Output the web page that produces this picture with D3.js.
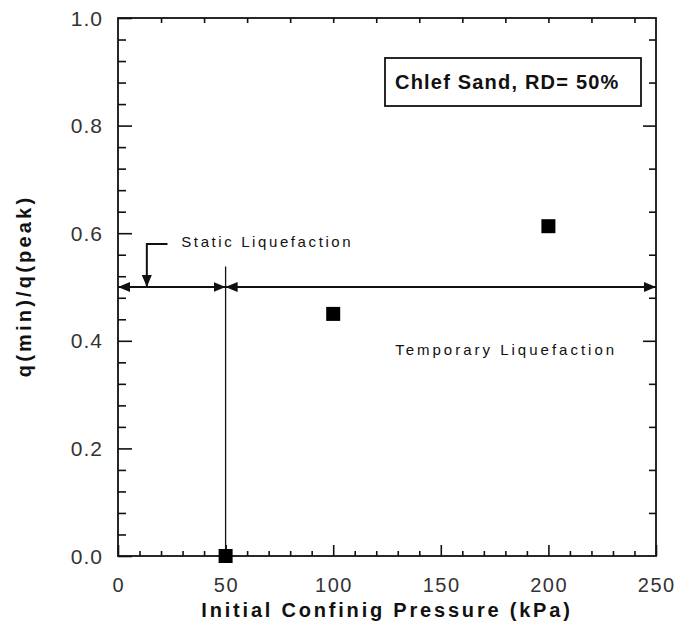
<!DOCTYPE html>
<html>
<head>
<meta charset="utf-8">
<style>
  body { margin: 0; background: #fff; }
  text { font-family: "Liberation Sans", Arial, sans-serif; }
</style>
<script src="https://d3js.org/d3.v7.min.js"></script>
</head>
<body>
<svg id="chart" width="676" height="627"></svg>
<script>
// data
const pressure = [50, 100, 200];
const qRatio = [0.0, 0.45, 0.613];
const xTickLabels = [0, 50, 100, 150, 200, 250];
const yTickLabels = [0.0, 0.2, 0.4, 0.6, 0.8, 1.0];
const boundaryPressure = 50;
const liquefactionLevel = 0.5;
const boundaryTop = 0.538;
const staticLeader = [[23, 0.58], [13.4, 0.58], [13.4, 0.5]];

const margin = { left: 118, top: 18, right: 20, bottom: 71 };
const width = 656 - margin.left;
const height = 556 - margin.top;

const svg = d3.select('#chart');
const g = svg.append('g').attr('transform', `translate(${margin.left},${margin.top})`);

const x = d3.scaleLinear().domain([0, 250]).range([0, width]);
const y = d3.scaleLinear().domain([0, 1]).range([height, 0]);

// inward tick marks, no labels
function tickAxis(axisFn, scale, values, size) {
  return axisFn(scale).tickValues(values).tickSize(size).tickFormat('');
}
const xMinor = d3.range(0, 251, 10).filter(d => d % 50 !== 0);
const xMajor = d3.range(0, 251, 50);
const yMinor = d3.range(0, 1.001, 0.04).filter(d => Math.abs(d / 0.2 - Math.round(d / 0.2)) > 1e-6);
const yMajor = d3.range(0, 1.001, 0.2);

const axes = g.append('g').attr('class', 'axes');
axes.append('g').attr('transform', `translate(0,${height})`).call(tickAxis(d3.axisTop, x, xMinor, 5));
axes.append('g').attr('transform', `translate(0,${height})`).call(tickAxis(d3.axisTop, x, xMajor, 11));
axes.append('g').call(tickAxis(d3.axisBottom, x, d3.range(20, 250, 20), 5));
axes.append('g').call(tickAxis(d3.axisRight, y, yMinor, 8));
axes.append('g').call(tickAxis(d3.axisRight, y, yMajor, 14));
const rightMinor = d3.range(0.08, 1, 0.08).filter(d => Math.abs(d / 0.4 - Math.round(d / 0.4)) > 1e-6);
axes.append('g').attr('transform', `translate(${width},0)`).call(tickAxis(d3.axisLeft, y, rightMinor, 7));
axes.append('g').attr('transform', `translate(${width},0)`).call(tickAxis(d3.axisLeft, y, [0.4, 0.8], 13));
axes.selectAll('.domain').remove();
axes.selectAll('line').attr('stroke', '#111').attr('stroke-width', 1.6);

g.append('rect')
  .attr('width', width).attr('height', height)
  .attr('fill', 'none').attr('stroke', '#111').attr('stroke-width', 1.8);

// tick labels
g.append('g').selectAll('text').data(xTickLabels).join('text')
  .attr('x', d => x(d) + 0.8).attr('y', height + 36)
  .attr('text-anchor', 'middle').attr('font-size', 20).attr('fill', '#333')
  .attr('letter-spacing', 1.5)
  .text(d => d);
g.append('g').selectAll('text').data(yTickLabels).join('text')
  .attr('x', -15).attr('y', d => y(d) + 7.5)
  .attr('text-anchor', 'end').attr('font-size', 21).attr('fill', '#333')
  .attr('letter-spacing', 1)
  .text(d => d.toFixed(1));

// axis titles
svg.append('text')
  .attr('x', 387).attr('y', 617).attr('text-anchor', 'middle')
  .attr('font-size', 20).attr('font-weight', 'bold').attr('fill', '#111')
  .attr('letter-spacing', 2.8)
  .text('Initial Confinig Pressure (kPa)');
svg.append('text')
  .attr('transform', 'translate(31,286) rotate(-90)')
  .attr('text-anchor', 'middle')
  .attr('font-size', 20).attr('font-weight', 'bold').attr('fill', '#111')
  .attr('letter-spacing', 3.2)
  .text('q(min)/q(peak)');

// arrowheads
const defs = svg.append('defs');
defs.append('marker')
  .attr('id', 'arrow').attr('viewBox', '0 0 12 10')
  .attr('refX', 12).attr('refY', 5)
  .attr('markerWidth', 12).attr('markerHeight', 10)
  .attr('markerUnits', 'userSpaceOnUse')
  .attr('orient', 'auto-start-reverse')
  .append('path').attr('d', 'M0,0 L12,5 L0,10 Z').attr('fill', '#111');

const ann = g.append('g').attr('class', 'annotations');
const line = d3.line().x(d => x(d[0])).y(d => y(d[1]));

// boundary at 50 kPa
ann.append('path')
  .attr('d', line([[boundaryPressure, 0], [boundaryPressure, boundaryTop]]))
  .attr('stroke', '#111').attr('stroke-width', 1.3).attr('fill', 'none');

// double arrows
[[0, boundaryPressure], [boundaryPressure, 250]].forEach(([a, b]) => {
  ann.append('path')
    .attr('d', line([[a, liquefactionLevel], [b, liquefactionLevel]]))
    .attr('stroke', '#111').attr('stroke-width', 2.2).attr('fill', 'none')
    .attr('marker-start', 'url(#arrow)').attr('marker-end', 'url(#arrow)');
});

// static leader
ann.append('path')
  .attr('d', line(staticLeader))
  .attr('stroke', '#111').attr('stroke-width', 2).attr('fill', 'none')
  .attr('marker-end', 'url(#arrow)');

ann.append('text')
  .attr('x', x(29.4)).attr('y', y(0.574))
  .attr('font-size', 15).attr('letter-spacing', 2.6).attr('fill', '#111')
  .text('Static Liquefaction');
ann.append('text')
  .attr('x', x(128.8)).attr('y', y(0.374))
  .attr('font-size', 15).attr('letter-spacing', 3.0).attr('fill', '#111')
  .text('Temporary Liquefaction');

// legend box
svg.append('rect')
  .attr('x', 385).attr('y', 58).attr('width', 256).attr('height', 48)
  .attr('fill', '#fff').attr('stroke', '#111').attr('stroke-width', 1.8);
svg.append('text')
  .attr('x', 395).attr('y', 89)
  .attr('font-size', 20).attr('font-weight', 'bold').attr('fill', '#111')
  .attr('letter-spacing', 1.2)
  .text('Chlef Sand, RD= 50%');

// points
const pts = pressure.map((p, i) => ({ p, q: qRatio[i] }));
g.append('g').selectAll('rect').data(pts).join('rect')
  .attr('x', d => x(d.p) - 7).attr('y', d => y(d.q) - 7)
  .attr('width', 14).attr('height', 14)
  .attr('fill', '#000');
</script>
</body>
</html>
